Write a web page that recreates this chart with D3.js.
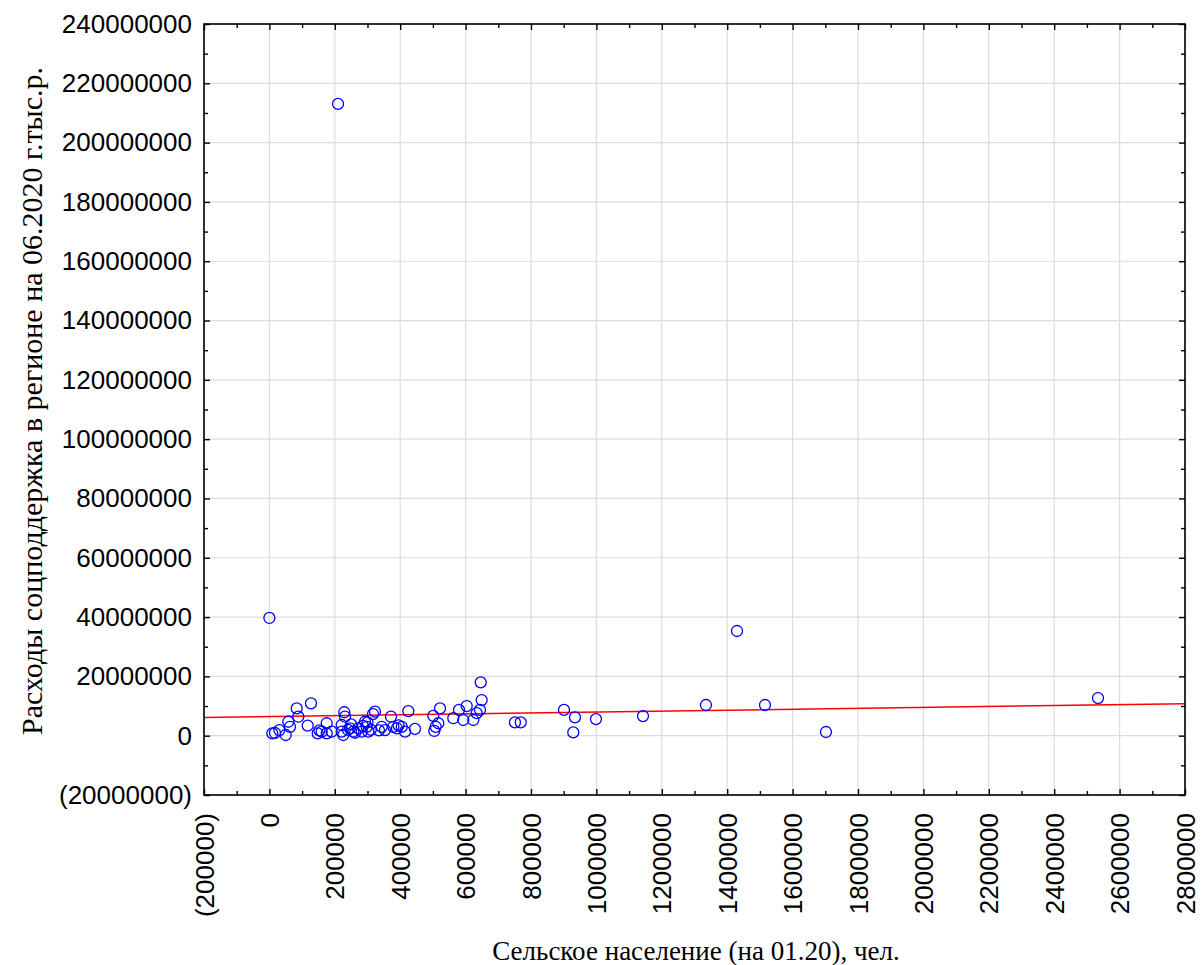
<!DOCTYPE html>
<html>
<head>
<meta charset="utf-8">
<script src="https://cdn.jsdelivr.net/npm/d3@7"></script>
<style>
  html, body { margin: 0; padding: 0; background: #fff; }
  svg { display: block; }
</style>
</head>
<body>
<svg id="chart" width="1201" height="965"></svg>
<script>
// ---- data ----
const ruralPopulation = [
  209800, 0, 1430000, 2534000, 1515600, 1335000, 1702000, 1142500, 998700, 900900,
  934500, 929300, 751000, 768500, 646200, 649200, 644000, 634000, 623500, 603300,
  593000, 579800, 562400, 521700, 501200, 516500, 508500, 504300, 445300, 424800,
  414700, 404600, 378900, 371900, 353500, 343400, 322900, 316800, 302400, 297500,
  292300, 282300, 271900, 256600, 246500, 226000, 221100, 221100, 231200, 229000,
  190500, 175200, 175200, 160000, 147700, 117100, 127200, 88400, 83500, 57800,
  63000, 49800, 30300, 17100, 8900, 262000, 310000, 335000, 390000, 286000,
  250000, 240000, 153000, 395000, 300000
];
const socialSpending = [
  213050000, 39700000, 35300000, 12700000, 10350000, 10350000, 1250000, 6600000, 5600000, 8700000,
  6200000, 1100000, 4500000, 4500000, 18000000, 12000000, 8700000, 7600000, 5300000, 10000000,
  5300000, 8700000, 5900000, 9200000, 6700000, 4200000, 3000000, 1600000, 2300000, 8300000,
  1350000, 3000000, 3000000, 6400000, 1900000, 3000000, 8100000, 7300000, 1350000, 3000000,
  4700000, 1350000, 2500000, 1350000, 2500000, 240000, 1350000, 3600000, 6400000, 7900000,
  1350000, 800000, 4200000, 1350000, 800000, 3400000, 10900000, 6400000, 9200000, 4700000,
  3000000, 240000, 1900000, 900000, 800000, 1000000, 2000000, 1800000, 2500000, 3300000,
  3800000, 2000000, 1800000, 3500000, 4500000
];
const xTicks = [-200000, 0, 200000, 400000, 600000, 800000, 1000000, 1200000, 1400000,
  1600000, 1800000, 2000000, 2200000, 2400000, 2600000, 2800000];
const yTicks = [-20000000, 0, 20000000, 40000000, 60000000, 80000000, 100000000, 120000000,
  140000000, 160000000, 180000000, 200000000, 220000000, 240000000];
const fitIntercept = 6430000;
const fitSlope = 1.56;
const xTitle = "Сельское население (на 01.20), чел.";
const yTitle = "Расходы соцподдержка в регионе на 06.2020 г.тыс.р.";

// ---- layout ----
const L = 204, R = 1185, T = 24, B = 795;
const svg = d3.select("#chart");
svg.append("rect").attr("width", 1201).attr("height", 965).attr("fill", "#fff");

const x = d3.scaleLinear().domain([-200000, 2800000]).range([L, R]);
const y = d3.scaleLinear().domain([-20000000, 240000000]).range([B, T]);
const fmt = d => d < 0 ? "(" + (-d) + ")" : String(d);

const xMinor = d3.range(-100000, 2800000, 200000);
const yMinor = d3.range(-10000000, 240000000, 20000000);

// grid
const g = svg.append("g");
g.selectAll("line.gx").data(xTicks).join("line")
  .attr("x1", d => x(d)).attr("x2", d => x(d)).attr("y1", T).attr("y2", B)
  .attr("stroke", "#dcdcdc").attr("stroke-width", 1.2);
g.selectAll("line.gy").data(yTicks).join("line")
  .attr("y1", d => y(d)).attr("y2", d => y(d)).attr("x1", L).attr("x2", R)
  .attr("stroke", "#dcdcdc").attr("stroke-width", 1.2);

// regression line
svg.append("defs").append("clipPath").attr("id", "clip")
  .append("rect").attr("x", L).attr("y", T).attr("width", R - L).attr("height", B - T);
const xd = x.domain();
svg.append("line")
  .attr("clip-path", "url(#clip)")
  .attr("x1", x(xd[0])).attr("y1", y(fitIntercept + fitSlope * xd[0]))
  .attr("x2", x(xd[1])).attr("y2", y(fitIntercept + fitSlope * xd[1]))
  .attr("stroke", "#ff0000").attr("stroke-width", 1.5);

// points
svg.append("g").selectAll("circle").data(ruralPopulation.map((v, i) => [v, socialSpending[i]]))
  .join("circle")
  .attr("cx", d => x(d[0])).attr("cy", d => y(d[1])).attr("r", 5.5)
  .attr("fill", "none").attr("stroke", "#0000ff").attr("stroke-width", 1.3);

// axes
function styleAxis(sel) {
  sel.select(".domain").remove();
  sel.selectAll(".tick line").attr("stroke", "#000").attr("stroke-width", 1.4);
  sel.selectAll("text").attr("font-family", "Liberation Sans, Arial, sans-serif")
    .attr("font-size", 26).attr("fill", "#000");
}
const majorLen = 6, minorLen = 4;

// left
svg.append("g").attr("transform", `translate(${L},0)`)
  .call(d3.axisLeft(y).tickValues(yTicks).tickFormat(fmt).tickSize(-majorLen).tickPadding(12))
  .call(styleAxis);
svg.append("g").attr("transform", `translate(${L},0)`)
  .call(d3.axisLeft(y).tickValues(yMinor).tickFormat("").tickSize(-minorLen)).call(styleAxis);
// right
svg.append("g").attr("transform", `translate(${R},0)`)
  .call(d3.axisRight(y).tickValues(yTicks).tickFormat("").tickSize(-majorLen)).call(styleAxis);
svg.append("g").attr("transform", `translate(${R},0)`)
  .call(d3.axisRight(y).tickValues(yMinor).tickFormat("").tickSize(-minorLen)).call(styleAxis);
// top
svg.append("g").attr("transform", `translate(0,${T})`)
  .call(d3.axisTop(x).tickValues(xTicks).tickFormat("").tickSize(-majorLen)).call(styleAxis);
svg.append("g").attr("transform", `translate(0,${T})`)
  .call(d3.axisTop(x).tickValues(xMinor).tickFormat("").tickSize(-minorLen)).call(styleAxis);
// bottom
const bx = svg.append("g").attr("transform", `translate(0,${B})`)
  .call(d3.axisBottom(x).tickValues(xTicks).tickFormat(fmt).tickSize(-majorLen))
  .call(styleAxis);
bx.selectAll("text")
  .attr("transform", "rotate(-90)")
  .attr("x", -18).attr("y", 0).attr("dy", "0.35em")
  .attr("text-anchor", "end");
svg.append("g").attr("transform", `translate(0,${B})`)
  .call(d3.axisBottom(x).tickValues(xMinor).tickFormat("").tickSize(-minorLen)).call(styleAxis);

// frame
svg.append("rect").attr("x", L).attr("y", T).attr("width", R - L).attr("height", B - T)
  .attr("fill", "none").attr("stroke", "#000").attr("stroke-width", 1.6);

// titles
svg.append("text").attr("x", 696).attr("y", 960).attr("text-anchor", "middle")
  .attr("font-family", "Liberation Serif, Times New Roman, serif").attr("font-size", 27)
  .text(xTitle);
svg.append("text").attr("transform", "translate(42,401) rotate(-90)").attr("text-anchor", "middle")
  .attr("font-family", "Liberation Serif, Times New Roman, serif").attr("font-size", 30)
  .text(yTitle);
</script>
</body>
</html>
